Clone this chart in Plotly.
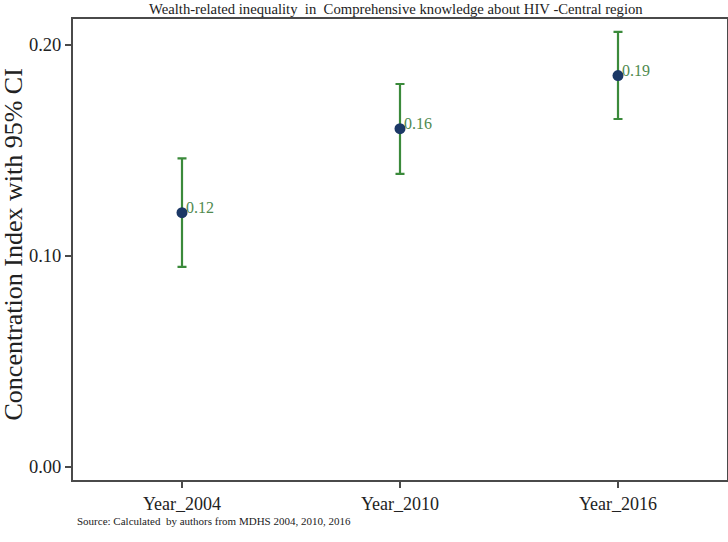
import plotly.graph_objects as go

categories = ["Year_2004", "Year_2010", "Year_2016"]
ci_values = [0.1205, 0.1603, 0.1855]
ci_lower = [0.0948, 0.1389, 0.1649]
ci_upper = [0.1462, 0.1815, 0.2062]
value_labels = ["0.12", "0.16", "0.19"]
y_ticks = [0.0, 0.1, 0.2]
y_tick_labels = ["0.00", "0.10", "0.20"]

FONT = "Liberation Serif, Times New Roman, serif"
GREEN = "#3b8a3b"
NAVY = "#1b3866"
FRAME = "#4a4a4a"
TXT = "#222222"

err_plus = [u - v for u, v in zip(ci_upper, ci_values)]
err_minus = [v - l for v, l in zip(ci_values, ci_lower)]

fig = go.Figure()
fig.add_trace(go.Scatter(
    x=categories, y=ci_values, mode="markers",
    marker=dict(color=NAVY, size=11),
    error_y=dict(type="data", symmetric=False, array=err_plus, arrayminus=err_minus,
                 color=GREEN, thickness=2.2, width=4.5),
    showlegend=False, cliponaxis=False,
))

for c, v, t in zip(categories, ci_values, value_labels):
    fig.add_annotation(x=c, y=v, text=t, showarrow=False, xanchor="left", yanchor="middle",
                       xshift=2, yshift=5, font=dict(family=FONT, size=16, color="#4f8a4f"))

fig.add_annotation(x=0.5, y=1.0, xref="paper", yref="paper", yanchor="middle", yshift=10,
                   xshift=-4,
                   text="Wealth-related inequality  in  Comprehensive knowledge about HIV -Central region",
                   showarrow=False, font=dict(family=FONT, size=14.7, color=TXT))
fig.add_annotation(x=0, y=0, xref="paper", yref="paper", yanchor="middle", xanchor="left",
                   xshift=2, yshift=-41,
                   text="Source: Calculated  by authors from MDHS 2004, 2010, 2016",
                   showarrow=False, font=dict(family=FONT, size=11, color=TXT))
fig.add_annotation(x=0, y=0.5, xref="paper", yref="paper", xanchor="center", yanchor="middle",
                   xshift=-60, yshift=5, textangle=-90,
                   text="Concentration Index with 95% CI",
                   showarrow=False, font=dict(family=FONT, size=26, color=TXT))

fig.update_layout(
    width=728, height=542,
    margin=dict(l=73, r=1, t=19, b=62),
    paper_bgcolor="white", plot_bgcolor="white",
    font=dict(family=FONT, size=18, color=TXT),
    xaxis=dict(type="category", range=[-0.5, 2.5], showgrid=False, zeroline=False,
               automargin=False,
               showline=True, linecolor=FRAME, linewidth=2, mirror=True,
               ticks="outside", ticklen=6, tickwidth=1.5, tickcolor=FRAME,
               tickfont=dict(family=FONT, size=18, color=TXT)),
    yaxis=dict(range=[-0.0062, 0.2123], tickvals=y_ticks, ticktext=y_tick_labels,
               showgrid=False, zeroline=False, automargin=False,
               showline=True, linecolor=FRAME, linewidth=2, mirror=True,
               ticks="outside", ticklen=6, tickwidth=1.5, tickcolor=FRAME,
               tickfont=dict(family=FONT, size=18.5, color=TXT)),
)

fig.write_html("out.html", config={"displayModeBar": False},
               post_script="document.body.style.margin='0';document.body.style.padding='0';")
